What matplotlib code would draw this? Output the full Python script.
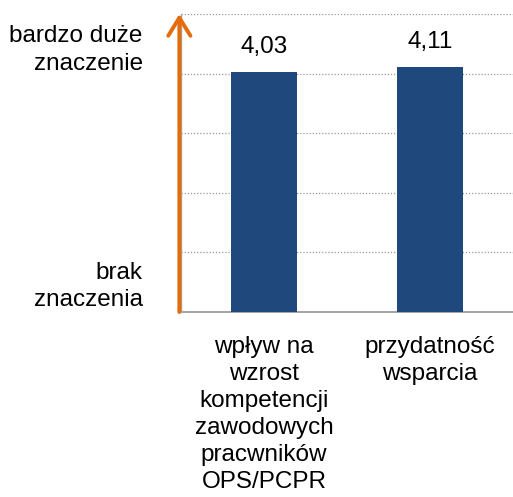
import matplotlib
matplotlib.use("Agg")
import matplotlib.pyplot as plt

categories = ["wpływ na\nwzrost\nkompetencji\nzawodowych\npracwników\nOPS/PCPR",
              "przydatność\nwsparcia"]
values = [4.03, 4.11]
value_labels = ["4,03", "4,11"]
top_label = "bardzo duże\nznaczenie"
bottom_label = "brak\nznaczenia"

plt.rcParams['font.family'] = ['Liberation Sans', 'DejaVu Sans']
FS = 17.5

fig = plt.figure(figsize=(5.13, 4.97), dpi=100)
ax = fig.add_axes([181/513, 1 - 312/497, 1 - 181/513, (312 - 14)/497])

x = list(range(len(categories)))
bars = ax.bar(x, values, width=0.4, color="#1F497D", zorder=3)
ax.set_xlim(-0.5, 1.5)
ax.set_ylim(0, 5)

for xi, v, lab in zip(x, values, value_labels):
    ax.annotate(lab, (xi, v), xytext=(0, 18), textcoords="offset points",
                ha="center", va="center", fontsize=FS, color="#000000")

ax.set_yticks([1, 2, 3, 4, 5])
ax.yaxis.grid(True, linestyle=(0, (1, 1.5)), color="#999999", linewidth=0.9, zorder=0)
ax.tick_params(axis="y", length=0, labelleft=False)
ax.set_xticks(x)
ax.set_xticklabels(categories, fontsize=FS, linespacing=1.3)
ax.tick_params(axis="x", length=0, pad=17)

for s in ["top", "right"]:
    ax.spines[s].set_visible(False)
ax.spines["bottom"].set_color("#A6A6A6")
ax.spines["bottom"].set_linewidth(1.5)
ax.spines["left"].set_color("#A6A6A6")
ax.spines["left"].set_linewidth(1.0)

ax.annotate("", xy=(-0.51, 5.0), xytext=(-0.51, 0.0),
            xycoords="data", textcoords="data",
            arrowprops=dict(arrowstyle="->,head_length=1.3,head_width=0.8",
                            color="#E46C0A", lw=2.8, shrinkA=0, shrinkB=0),
            annotation_clip=False)

ax.text(-0.73, 4.4, top_label, ha="right", va="center", fontsize=FS,
        linespacing=1.33, transform=ax.transData)
ax.text(-0.73, 0.43, bottom_label, ha="right", va="center", fontsize=FS,
        linespacing=1.33, transform=ax.transData)

fig.savefig("out.png", dpi=100)
